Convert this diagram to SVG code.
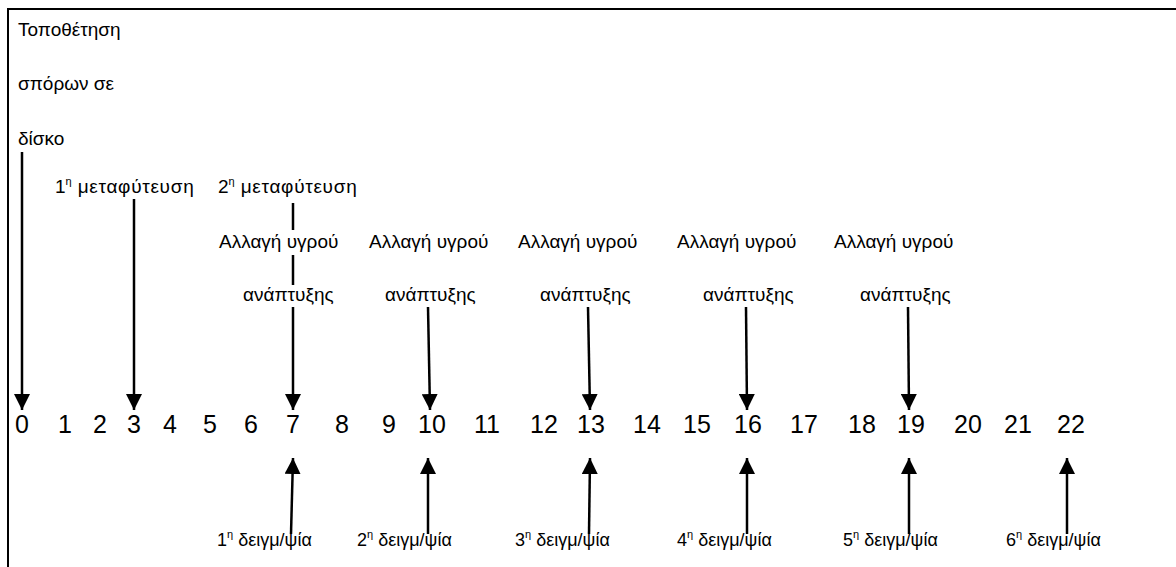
<svg xmlns="http://www.w3.org/2000/svg" width="1176" height="567" viewBox="0 0 1176 567">
<style>
.t{font-family:"Liberation Sans",Arial,sans-serif;font-size:19px;fill:#000}
.b{font-size:18px}
.n{font-family:"Liberation Sans",Arial,sans-serif;font-size:25px;fill:#000;text-anchor:middle}
.s{font-size:11px}
.c{stroke:#000;stroke-width:2.5;fill:none}
</style>
<defs>
<marker id="ah" viewBox="0 0 16 16" refX="16" refY="8" markerWidth="16" markerHeight="16" markerUnits="userSpaceOnUse" orient="auto">
<path d="M0,0 L16,8 L0,16 Z" fill="#000"/>
</marker>
</defs>
<rect width="1176" height="567" fill="#fff"/>
<path d="M8,567 V9 H1176" stroke="#000" stroke-width="2" fill="none"/>
<g id="start"><text class="t" x="18" y="36">Τοποθέτηση</text><text class="t" x="18" y="90">σπόρων σε</text><text class="t" x="18" y="145">δίσκο</text></g>
<g id="transplant1"><text class="t" x="55" y="193">1<tspan class="s" dy="-8">η</tspan><tspan dy="8" textLength="122"> μεταφύτευση</tspan></text></g>
<g id="transplant2"><text class="t" x="218" y="193">2<tspan class="s" dy="-8">η</tspan><tspan dy="8" textLength="122"> μεταφύτευση</tspan></text></g>
<g id="change1"><text class="t" x="219" y="248">Αλλαγή υγρού</text><text class="t" x="243" y="301">ανάπτυξης</text></g>
<g id="change2"><text class="t" x="369" y="248">Αλλαγή υγρού</text><text class="t" x="385" y="301">ανάπτυξης</text></g>
<g id="change3"><text class="t" x="518" y="248">Αλλαγή υγρού</text><text class="t" x="540" y="301">ανάπτυξης</text></g>
<g id="change4"><text class="t" x="677" y="248">Αλλαγή υγρού</text><text class="t" x="703" y="301">ανάπτυξης</text></g>
<g id="change5"><text class="t" x="834" y="248">Αλλαγή υγρού</text><text class="t" x="860" y="301">ανάπτυξης</text></g>
<g id="axis">
<text class="n" x="22" y="433">0</text><text class="n" x="65" y="433">1</text><text class="n" x="100" y="433">2</text><text class="n" x="134" y="433">3</text><text class="n" x="170" y="433">4</text><text class="n" x="210" y="433">5</text><text class="n" x="251" y="433">6</text><text class="n" x="293" y="433">7</text><text class="n" x="342" y="433">8</text><text class="n" x="389" y="433">9</text><text class="n" x="432" y="433">10</text><text class="n" x="487" y="433">11</text><text class="n" x="544" y="433">12</text><text class="n" x="591" y="433">13</text><text class="n" x="647" y="433">14</text><text class="n" x="697" y="433">15</text><text class="n" x="748" y="433">16</text><text class="n" x="804" y="433">17</text><text class="n" x="862" y="433">18</text><text class="n" x="911" y="433">19</text><text class="n" x="968" y="433">20</text><text class="n" x="1018" y="433">21</text><text class="n" x="1071" y="433">22</text>
</g>
<g id="sample1"><text class="t b" x="217" y="546">1<tspan class="s" dy="-8">η</tspan><tspan dy="8"> δειγμ/ψία</tspan></text></g>
<g id="sample2"><text class="t b" x="357" y="546">2<tspan class="s" dy="-8">η</tspan><tspan dy="8"> δειγμ/ψία</tspan></text></g>
<g id="sample3"><text class="t b" x="515" y="546">3<tspan class="s" dy="-8">η</tspan><tspan dy="8"> δειγμ/ψία</tspan></text></g>
<g id="sample4"><text class="t b" x="677" y="546">4<tspan class="s" dy="-8">η</tspan><tspan dy="8"> δειγμ/ψία</tspan></text></g>
<g id="sample5"><text class="t b" x="843" y="546">5<tspan class="s" dy="-8">η</tspan><tspan dy="8"> δειγμ/ψία</tspan></text></g>
<g id="sample6"><text class="t b" x="1006" y="546">6<tspan class="s" dy="-8">η</tspan><tspan dy="8"> δειγμ/ψία</tspan></text></g>
<g id="connectors">
<line class="c" x1="22" y1="152" x2="22" y2="410" marker-end="url(#ah)"/>
<line class="c" x1="134" y1="199" x2="134" y2="410" marker-end="url(#ah)"/>
<line class="c" x1="293" y1="203" x2="293" y2="230"/>
<line class="c" x1="293" y1="255" x2="293" y2="285"/>
<line class="c" x1="293" y1="307" x2="293" y2="410" marker-end="url(#ah)"/>
<line class="c" x1="428" y1="307" x2="430" y2="410" marker-end="url(#ah)"/>
<line class="c" x1="588" y1="307" x2="590" y2="410" marker-end="url(#ah)"/>
<line class="c" x1="746" y1="307" x2="747" y2="410" marker-end="url(#ah)"/>
<line class="c" x1="908" y1="307" x2="909" y2="410" marker-end="url(#ah)"/>
<line class="c" x1="291" y1="534" x2="293" y2="458" marker-end="url(#ah)"/>
<line class="c" x1="428" y1="534" x2="428" y2="458" marker-end="url(#ah)"/>
<line class="c" x1="589" y1="534" x2="590" y2="458" marker-end="url(#ah)"/>
<line class="c" x1="747" y1="534" x2="747" y2="458" marker-end="url(#ah)"/>
<line class="c" x1="909" y1="534" x2="909" y2="458" marker-end="url(#ah)"/>
<line class="c" x1="1067" y1="534" x2="1067" y2="458" marker-end="url(#ah)"/>
</g>
</svg>
